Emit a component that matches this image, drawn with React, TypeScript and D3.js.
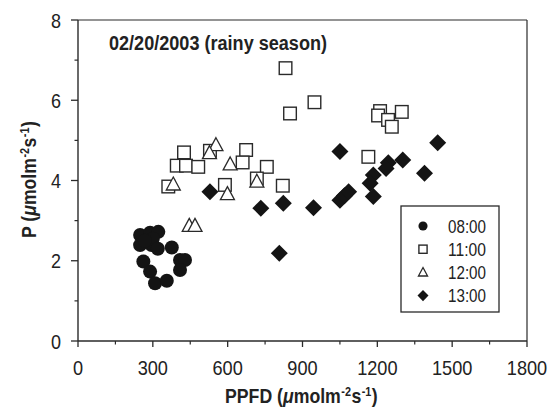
import React, { useLayoutEffect, useRef, useState } from "react";
import * as d3 from "d3";

const xTicks = [0, 300, 600, 900, 1200, 1500, 1800];
const yTicks = [0, 2, 4, 6, 8];
const seriesNames = ["08:00", "11:00", "12:00", "13:00"];

const ppfd0800 = [249, 289, 322, 249, 295, 376, 262, 289, 309, 356, 409, 429, 409, 300, 268, 320];
const p0800 = [2.64, 2.7, 2.72, 2.39, 2.39, 2.33, 1.98, 1.73, 1.44, 1.5, 2.02, 2.02, 1.77, 2.55, 2.5, 2.3];

const ppfd1100 = [425, 396, 433, 482, 529, 674, 660, 757, 362, 589, 717, 821, 1164, 832, 948, 850, 1211, 1203, 1243, 1258, 1298];
const p1100 = [4.7, 4.37, 4.37, 4.34, 4.74, 4.76, 4.45, 4.34, 3.85, 3.89, 4.05, 3.87, 4.59, 6.8, 5.95, 5.67, 5.73, 5.62, 5.51, 5.34, 5.71];

const ppfd1200 = [553, 527, 610, 382, 599, 717, 446, 469];
const p1200 = [4.88, 4.68, 4.4, 3.9, 3.66, 3.97, 2.87, 2.87];

const ppfd1300 = [1050, 733, 823, 944, 807, 529, 1050, 1068, 1085, 1442, 1389, 1302, 1244, 1235, 1184, 1171, 1184];
const p1300 = [4.72, 3.31, 3.43, 3.32, 2.19, 3.72, 3.51, 3.62, 3.72, 4.94, 4.18, 4.51, 4.44, 4.3, 4.14, 3.93, 3.6];

const FONT = "'Liberation Sans', Arial, sans-serif";
const AX = "#2a2a2a";
const INK = "#141414";
const TXT = "#222";

function Marker({ kind, x, y, s }: { kind: number; x: number; y: number; s: number }) {
  if (kind === 0) return <circle cx={x} cy={y} r={7 * s} fill={INK} />;
  if (kind === 1) {
    const h = 6.3 * s;
    return <rect x={x - h} y={y - h} width={2 * h} height={2 * h} fill="#fff" stroke={AX} strokeWidth={1.4} />;
  }
  if (kind === 2) {
    const w = 7 * s;
    const path = d3.path();
    path.moveTo(x, y - 7.5 * s);
    path.lineTo(x + w, y + 5.5 * s);
    path.lineTo(x - w, y + 5.5 * s);
    path.closePath();
    return <path d={path.toString()} fill="#fff" stroke={AX} strokeWidth={1.3} strokeLinejoin="miter" />;
  }
  const r = 8.5 * s;
  const path = d3.path();
  path.moveTo(x, y - r);
  path.lineTo(x + r, y);
  path.lineTo(x, y + r);
  path.lineTo(x - r, y);
  path.closePath();
  return <path d={path.toString()} fill={INK} />;
}

function FitText({ x, y, rotate = 0, width, children, ...rest }: any) {
  const ref = useRef<SVGTextElement>(null);
  const [k, setK] = useState(0.88);
  useLayoutEffect(() => {
    if (ref.current) {
      const w = ref.current.getComputedTextLength();
      if (w > 0) setK(width / w);
    }
  }, [width]);
  return (
    <g transform={`translate(${x},${y}) rotate(${rotate}) scale(${k},1)`}>
      <text ref={ref} x={0} y={0} {...rest}>{children}</text>
    </g>
  );
}

function Unit() {
  return (
    <>
      (<tspan fontStyle="italic">μ</tspan>molm<tspan fontSize={12} dy={-7} dx={0.5}>-2</tspan>
      <tspan dy={7} dx={0.5}>s</tspan><tspan fontSize={12} dy={-7} dx={0.5}>-1</tspan><tspan dy={7} dx={0.5}>)</tspan>
    </>
  );
}

export default function App() {
  const x = d3.scaleLinear().domain([0, 1800]).range([78, 527]);
  const y = d3.scaleLinear().domain([0, 8]).range([341, 20]);
  const minorX = d3.range(150, 1800, 300);
  const minorY = d3.range(1, 8, 2);

  const series = [
    { xs: ppfd0800, ys: p0800 },
    { xs: ppfd1100, ys: p1100 },
    { xs: ppfd1200, ys: p1200 },
    { xs: ppfd1300, ys: p1300 },
  ];

  const legX = 401, legY = 206, legW = 98, legH = 106;

  return (
    <svg width={560} height={416} style={{ position: "absolute", left: 0, top: 0, background: "#fff" }} fontFamily={FONT}>
      {/* frame */}
      <line x1={x(0)} x2={x(0)} y1={y(8)} y2={y(0)} stroke={AX} strokeWidth={1.4} />
      <line x1={x(0)} x2={x(1800)} y1={y(0)} y2={y(0)} stroke={AX} strokeWidth={1.4} />
      <line x1={x(0)} x2={x(1800)} y1={y(8)} y2={y(8)} stroke={AX} strokeWidth={1.2} />
      <line x1={x(1800)} x2={x(1800)} y1={y(8)} y2={y(0)} stroke={AX} strokeWidth={1.2} />

      {/* y ticks */}
      {yTicks.map((t) => (
        <g key={"y" + t}>
          <line x1={x(0) - 7} x2={x(0)} y1={y(t)} y2={y(t)} stroke={AX} strokeWidth={1.3} />
          <text x={61} y={y(t) + 7.5} textAnchor="end" fontSize={21} fill={TXT}
            textLength={10 * String(t).length} lengthAdjust="spacingAndGlyphs">{t}</text>
        </g>
      ))}
      {minorY.map((t) => (
        <line key={"my" + t} x1={x(0) - 3.5} x2={x(0)} y1={y(t)} y2={y(t)} stroke={AX} strokeWidth={1.2} />
      ))}

      {/* x ticks */}
      {xTicks.map((t) => (
        <g key={"x" + t}>
          <line x1={x(t)} x2={x(t)} y1={y(0)} y2={y(0) + 6} stroke={AX} strokeWidth={1.3} />
          <text x={x(t)} y={375} textAnchor="middle" fontSize={21} fill={TXT}
            textLength={10.1 * String(t).length} lengthAdjust="spacingAndGlyphs">{t}</text>
        </g>
      ))}
      {minorX.map((t) => (
        <line key={"mx" + t} x1={x(t)} x2={x(t)} y1={y(0)} y2={y(0) + 3.5} stroke={AX} strokeWidth={1.2} />
      ))}

      {/* axis titles */}
      <FitText x={225} y={403} width={151} fontSize={19.5} fontWeight="bold" fill={TXT}>
        PPFD <Unit />
      </FitText>
      <FitText x={36} y={238} rotate={-90} width={115} fontSize={19.5} fontWeight="bold" fill={TXT}>
        P <Unit />
      </FitText>

      {/* title */}
      <text x={109} y={50} fontSize={19.5} fontWeight="bold" fill={TXT}
        textLength={218} lengthAdjust="spacingAndGlyphs">02/20/2003 (rainy season)</text>

      {/* data */}
      {series.map((s, k) => (
        <g key={"s" + k}>
          {s.xs.map((v, i) => (
            <Marker key={i} kind={k} x={x(v)} y={y(s.ys[i])} s={1} />
          ))}
        </g>
      ))}

      {/* legend */}
      <rect x={legX} y={legY} width={legW} height={legH} fill="#fff" stroke={AX} strokeWidth={1.3} />
      {seriesNames.map((n, i) => {
        const cy = 226 + i * 23.2;
        return (
          <g key={n}>
            <Marker kind={i} x={423} y={cy} s={0.65} />
            <text x={448} y={cy + 6.8} fontSize={18.5} fill={TXT}
              textLength={38} lengthAdjust="spacingAndGlyphs">{n}</text>
          </g>
        );
      })}
    </svg>
  );
}
